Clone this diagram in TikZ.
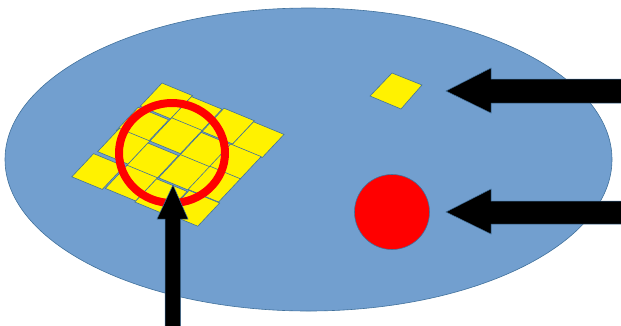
\documentclass[tikz,border=0pt]{standalone}
\usetikzlibrary{calc}
\definecolor{ellfill}{RGB}{114,159,207}
\definecolor{edge}{RGB}{65,113,156}
\tikzset{
  tile/.style={fill=yellow, draw=edge, line width=0.6pt},
  bigarrow/.style={fill=black, draw=edge, line width=0.5pt},
}
\begin{document}
\begin{tikzpicture}[x=1pt,y=-1pt]
\useasboundingbox (0,0) rectangle (621,325);
\begin{scope}
\clip (0,0) rectangle (621,325);
% ellipse
\draw[fill=ellfill, draw=edge, line width=0.6pt] (308.5,159.5) ellipse [x radius=303.5, y radius=151.5];
% tile grid 4x4
\foreach \i/\j/\dx/\dy in {0/0/0/0, 1/0/-1/1, 2/0/1/0, 3/0/0/1,
                           0/1/-2/1, 1/1/1/-1, 2/1/0/1, 3/1/-1/0,
                           0/2/1/-1, 1/2/-1/1, 2/2/1/0, 3/2/0/-1,
                           0/3/-3/1, 1/3/0/0, 2/3/-1/1, 3/3/1/0}{
  \coordinate (p) at ($(162+\dx,83+\dy)+\i*(30.5,12.6)+\j*(-21.8,23.2)$);
  \draw[tile] (p) -- ++(30.5,12.6) -- ++(-21.8,23.2) -- ++(-30.5,-12.6) -- cycle;
}
% red ring
\draw[red, line width=8pt] (172,153) ellipse [x radius=53, y radius=50];
% small diamond
\draw[tile] (392,73) -- (422,85) -- (401,109) -- (370,96) -- cycle;
% red disk
\draw[fill=red, draw=edge, line width=0.6pt] (392,212) circle [radius=37.5];
% arrows
\draw[bigarrow] (446,91) -- (491,68) -- (491,79) -- (625,79) -- (625,103) -- (491,103) -- (491,113) -- cycle;
\draw[bigarrow] (446,212) -- (491,189) -- (491,201) -- (625,201) -- (625,224) -- (491,224) -- (491,234) -- cycle;
\draw[bigarrow] (173,185) -- (188,219) -- (180.5,219) -- (180.5,330) -- (165,330) -- (165,219) -- (157,219) -- cycle;
\end{scope}
\end{tikzpicture}
\end{document}
